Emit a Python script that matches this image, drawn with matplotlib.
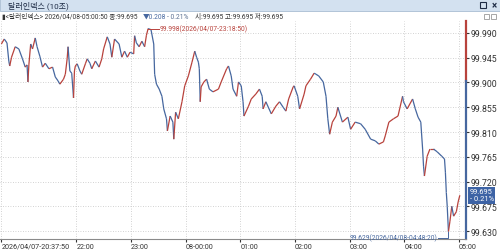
import numpy as np
import matplotlib.pyplot as plt
from matplotlib.collections import LineCollection
from matplotlib.patches import Rectangle

plt.rcParams['font.family'] = ['Roboto', 'Noto Sans CJK KR', 'DejaVu Sans']

# 10-second dollar index (clock time, price)
times = ["20:37:50", "20:41", "20:44", "20:46", "20:47", "20:49", "20:53", "20:57",
         "21:01", "21:04", "21:06", "21:07", "21:08", "21:10", "21:12", "21:15",
         "21:17", "21:20", "21:23", "21:26", "21:30", "21:34", "21:37", "21:40",
         "21:42", "21:46", "21:48", "21:50", "21:51", "21:53", "21:55", "21:57",
         "21:58", "21:59", "22:01", "22:04", "22:06", "22:10", "22:12", "22:15",
         "22:17", "22:21", "22:25", "22:28", "22:30", "22:34", "22:37", "22:39",
         "22:42", "22:47", "22:50", "22:53", "22:56", "22:59", "23:03", "23:04",
         "23:06", "23:09", "23:12", "23:15", "23:17", "23:18:50", "23:22", "23:25",
         "23:26", "23:28", "23:31", "23:34", "23:36", "23:39", "23:40", "23:43",
         "23:46", "23:47", "23:49", "23:52", "23:56", "23:59", "00:03", "00:07",
         "00:10", "00:12", "00:14", "00:15", "00:16", "00:17", "00:20", "00:23",
         "00:26", "00:30", "00:36", "00:39", "00:45", "00:47", "00:50", "00:52",
         "00:56", "00:58", "01:01", "01:03", "01:04", "01:09", "01:12", "01:17",
         "01:21", "01:24", "01:25", "01:28", "01:34", "01:39", "01:43", "01:47",
         "01:50", "01:53", "01:58", "01:59", "02:03", "02:05", "02:10", "02:12",
         "02:17", "02:21", "02:23", "02:26", "02:31", "02:34", "02:36", "02:38",
         "02:41", "02:45", "02:47", "02:52", "02:58", "03:01", "03:06", "03:12",
         "03:17", "03:23", "03:28", "03:32", "03:37", "03:39", "03:43", "03:48",
         "03:53", "03:58", "03:59", "04:03", "04:09", "04:12", "04:15", "04:18",
         "04:20", "04:21", "04:22", "04:25", "04:28", "04:32", "04:36", "04:41",
         "04:44", "04:45", "04:46", "04:47", "04:48:20", "04:50", "04:52", "04:54",
         "04:57", "04:59", "05:00:50"]
prices = [99.970, 99.979, 99.972, 99.939, 99.930, 99.946, 99.965, 99.961,
          99.943, 99.928, 99.932, 99.901, 99.932, 99.970, 99.961, 99.981,
          99.965, 99.948, 99.928, 99.935, 99.925, 99.928, 99.910, 99.903,
          99.897, 99.906, 99.915, 99.943, 99.965, 99.921, 99.917, 99.872,
          99.921, 99.930, 99.934, 99.921, 99.915, 99.934, 99.943, 99.935,
          99.925, 99.939, 99.928, 99.943, 99.961, 99.983, 99.970, 99.946,
          99.979, 99.970, 99.946, 99.957, 99.946, 99.955, 99.952, 99.985,
          99.972, 99.965, 99.975, 99.965, 99.986, 99.998, 99.996, 99.970,
          99.915, 99.897, 99.888, 99.875, 99.852, 99.834, 99.812, 99.839,
          99.828, 99.797, 99.846, 99.834, 99.865, 99.894, 99.912, 99.937,
          99.957, 99.946, 99.937, 99.925, 99.865, 99.892, 99.901, 99.906,
          99.888, 99.883, 99.888, 99.901, 99.925, 99.930, 99.912, 99.888,
          99.875, 99.901, 99.894, 99.865, 99.839, 99.857, 99.870, 99.879,
          99.888, 99.875, 99.852, 99.865, 99.843, 99.857, 99.865, 99.855,
          99.848, 99.870, 99.892, 99.894, 99.875, 99.852, 99.879, 99.894,
          99.906, 99.917, 99.915, 99.912, 99.901, 99.875, 99.834, 99.806,
          99.828, 99.839, 99.855, 99.828, 99.837, 99.815, 99.828, 99.825,
          99.815, 99.797, 99.794, 99.788, 99.792, 99.803, 99.828, 99.834,
          99.839, 99.875, 99.865, 99.852, 99.870, 99.852, 99.837, 99.828,
          99.779, 99.748, 99.730, 99.766, 99.779, 99.779, 99.774, 99.766,
          99.761, 99.737, 99.700, 99.675, 99.629, 99.648, 99.675, 99.657,
          99.665, 99.683, 99.695]

prev_close = 99.903
y_ticks = [99.630, 99.675, 99.720, 99.765, 99.810, 99.855, 99.900, 99.945, 99.990]
x_tick_labels = ["2026/04/07-20:37:50", "22:00", "23:00", "08-00:00", "01:00",
                 "02:00", "03:00", "04:00", "05:00"]

RED = '#b8423c'
BLUE = '#46679f'


def to_min(s):
    parts = [int(p) for p in s.split(':')]
    h, m = parts[0], parts[1]
    sec = parts[2] if len(parts) > 2 else 0
    if h < 20:
        h += 24
    return (h - 20) * 60 + m + sec / 60


x = np.array([to_min(t) for t in times])
y = np.array(prices)

fig = plt.figure(figsize=(5, 2.53), dpi=100)
ax = fig.add_axes([0, 13 / 253, 466 / 500, 218 / 253])

# red/blue pieces like the little candles
segs = np.stack([np.column_stack([x[:-1], y[:-1]]),
                 np.column_stack([x[1:], y[1:]])], axis=1)
cols = [RED if b >= a else BLUE for a, b in zip(y[:-1], y[1:])]
ax.add_collection(LineCollection(segs, colors=cols, linewidths=0.9))

ax.set_xlim(x[0] - 1.5, 547.6)
ax.set_ylim(99.6155, 100.0118)

# right price axis
ax.yaxis.tick_right()
ax.set_yticks(y_ticks)
ax.set_yticklabels([f"{v:.3f}" for v in y_ticks])
ax.tick_params(axis='y', labelsize=6.3, length=2.5, pad=1, colors='#333333')

xt = [x[0]] + [120 + 60 * i for i in range(8)]
ax.set_xticks(xt)
ax.set_xticklabels(x_tick_labels, ha='left')
ax.tick_params(axis='x', labelsize=5.2, length=2, pad=0.8, colors='#333333')

ax.grid(color='#c4c4c4', linestyle=(0, (1, 2)), linewidth=0.6)
for side in ['top', 'left', 'right']:
    ax.spines[side].set_visible(False)
ax.spines['bottom'].set_color('#8a8a8a')
ax.spines['bottom'].set_linewidth(0.8)

# axis line coloured above/below previous close
ax.plot([1, 1], [prev_close, 100.0118], transform=ax.get_yaxis_transform(),
        color=RED, lw=1.6, clip_on=False)
ax.plot([1, 1], [99.6155, prev_close], transform=ax.get_yaxis_transform(),
        color=BLUE, lw=1.6, clip_on=False)

# high / low markers
hi = int(np.argmax(y))
ax.plot([x[hi], x[hi] + 12], [y[hi], y[hi]], color=RED, lw=0.7)
ax.text(x[hi] + 12.5, y[hi], f"{y[hi]:.3f}(2026/04/07-23:18:50)", color=RED,
        fontsize=4.8, va='center', ha='left')
lo = int(np.argmin(y))
ly = y[lo] - 0.011
ax.plot([x[lo] - 12, x[lo], x[lo]], [ly, ly, y[lo]], color=BLUE, lw=0.7)
ax.text(x[lo] - 12.5, ly, f"{y[lo]:.3f}(2026/04/08-04:48:20)", color=BLUE,
        fontsize=4.8, va='center', ha='right')

# current price box
ax.text(1.008, y[-1], f"{y[-1]:.3f}\n- 0.21%", transform=ax.get_yaxis_transform(),
        fontsize=5.4, color='white', va='center', ha='left', linespacing=0.95,
        bbox=dict(boxstyle='square,pad=0.2', fc='#3d63a5', ec='none'))

# title bar
fig.patches.append(Rectangle((0, 1 - 12 / 253), 1, 12 / 253, transform=fig.transFigure,
                             facecolor='#d3e1f0', edgecolor='#a9bdd3', lw=0.6))
fig.text(8 / 500, 1 - 6 / 253, "달러인덱스 (10초)", fontsize=5.8, va='center',
         color='#1d2b45')
fig.text(497 / 500, 1 - 6 / 253, "×", fontsize=7, va='center', ha='right',
         color='#1d2b45', fontweight='bold')
fig.patches.append(Rectangle((480 / 500, 1 - 9 / 253), 6 / 500, 6 / 253,
                             transform=fig.transFigure, fill=False,
                             edgecolor='#1d2b45', lw=0.8))

# info line
iy = 1 - 17.5 / 253
fig.text(2 / 500, iy, "▮<달러인덱스> 2026/04/08-05:00:50 종:99.695", fontsize=4.8,
         va='center', color='#333333')
fig.text(143 / 500, iy, "▼0.208", fontsize=4.8, va='center', color=BLUE)
fig.text(167 / 500, iy, "- 0.21%", fontsize=4.8, va='center', color='#5a6f90')
fig.text(195 / 500, iy, "시:99.695 고:99.695 저:99.695", fontsize=4.8, va='center',
         color='#333333')
for bx in [484, 491]:
    fig.patches.append(Rectangle((bx / 500, 1 - 20 / 253), 5 / 500, 5 / 253,
                                 transform=fig.transFigure, fill=False,
                                 edgecolor='#999999', lw=0.6))

fig.savefig('out.png', dpi=100)
